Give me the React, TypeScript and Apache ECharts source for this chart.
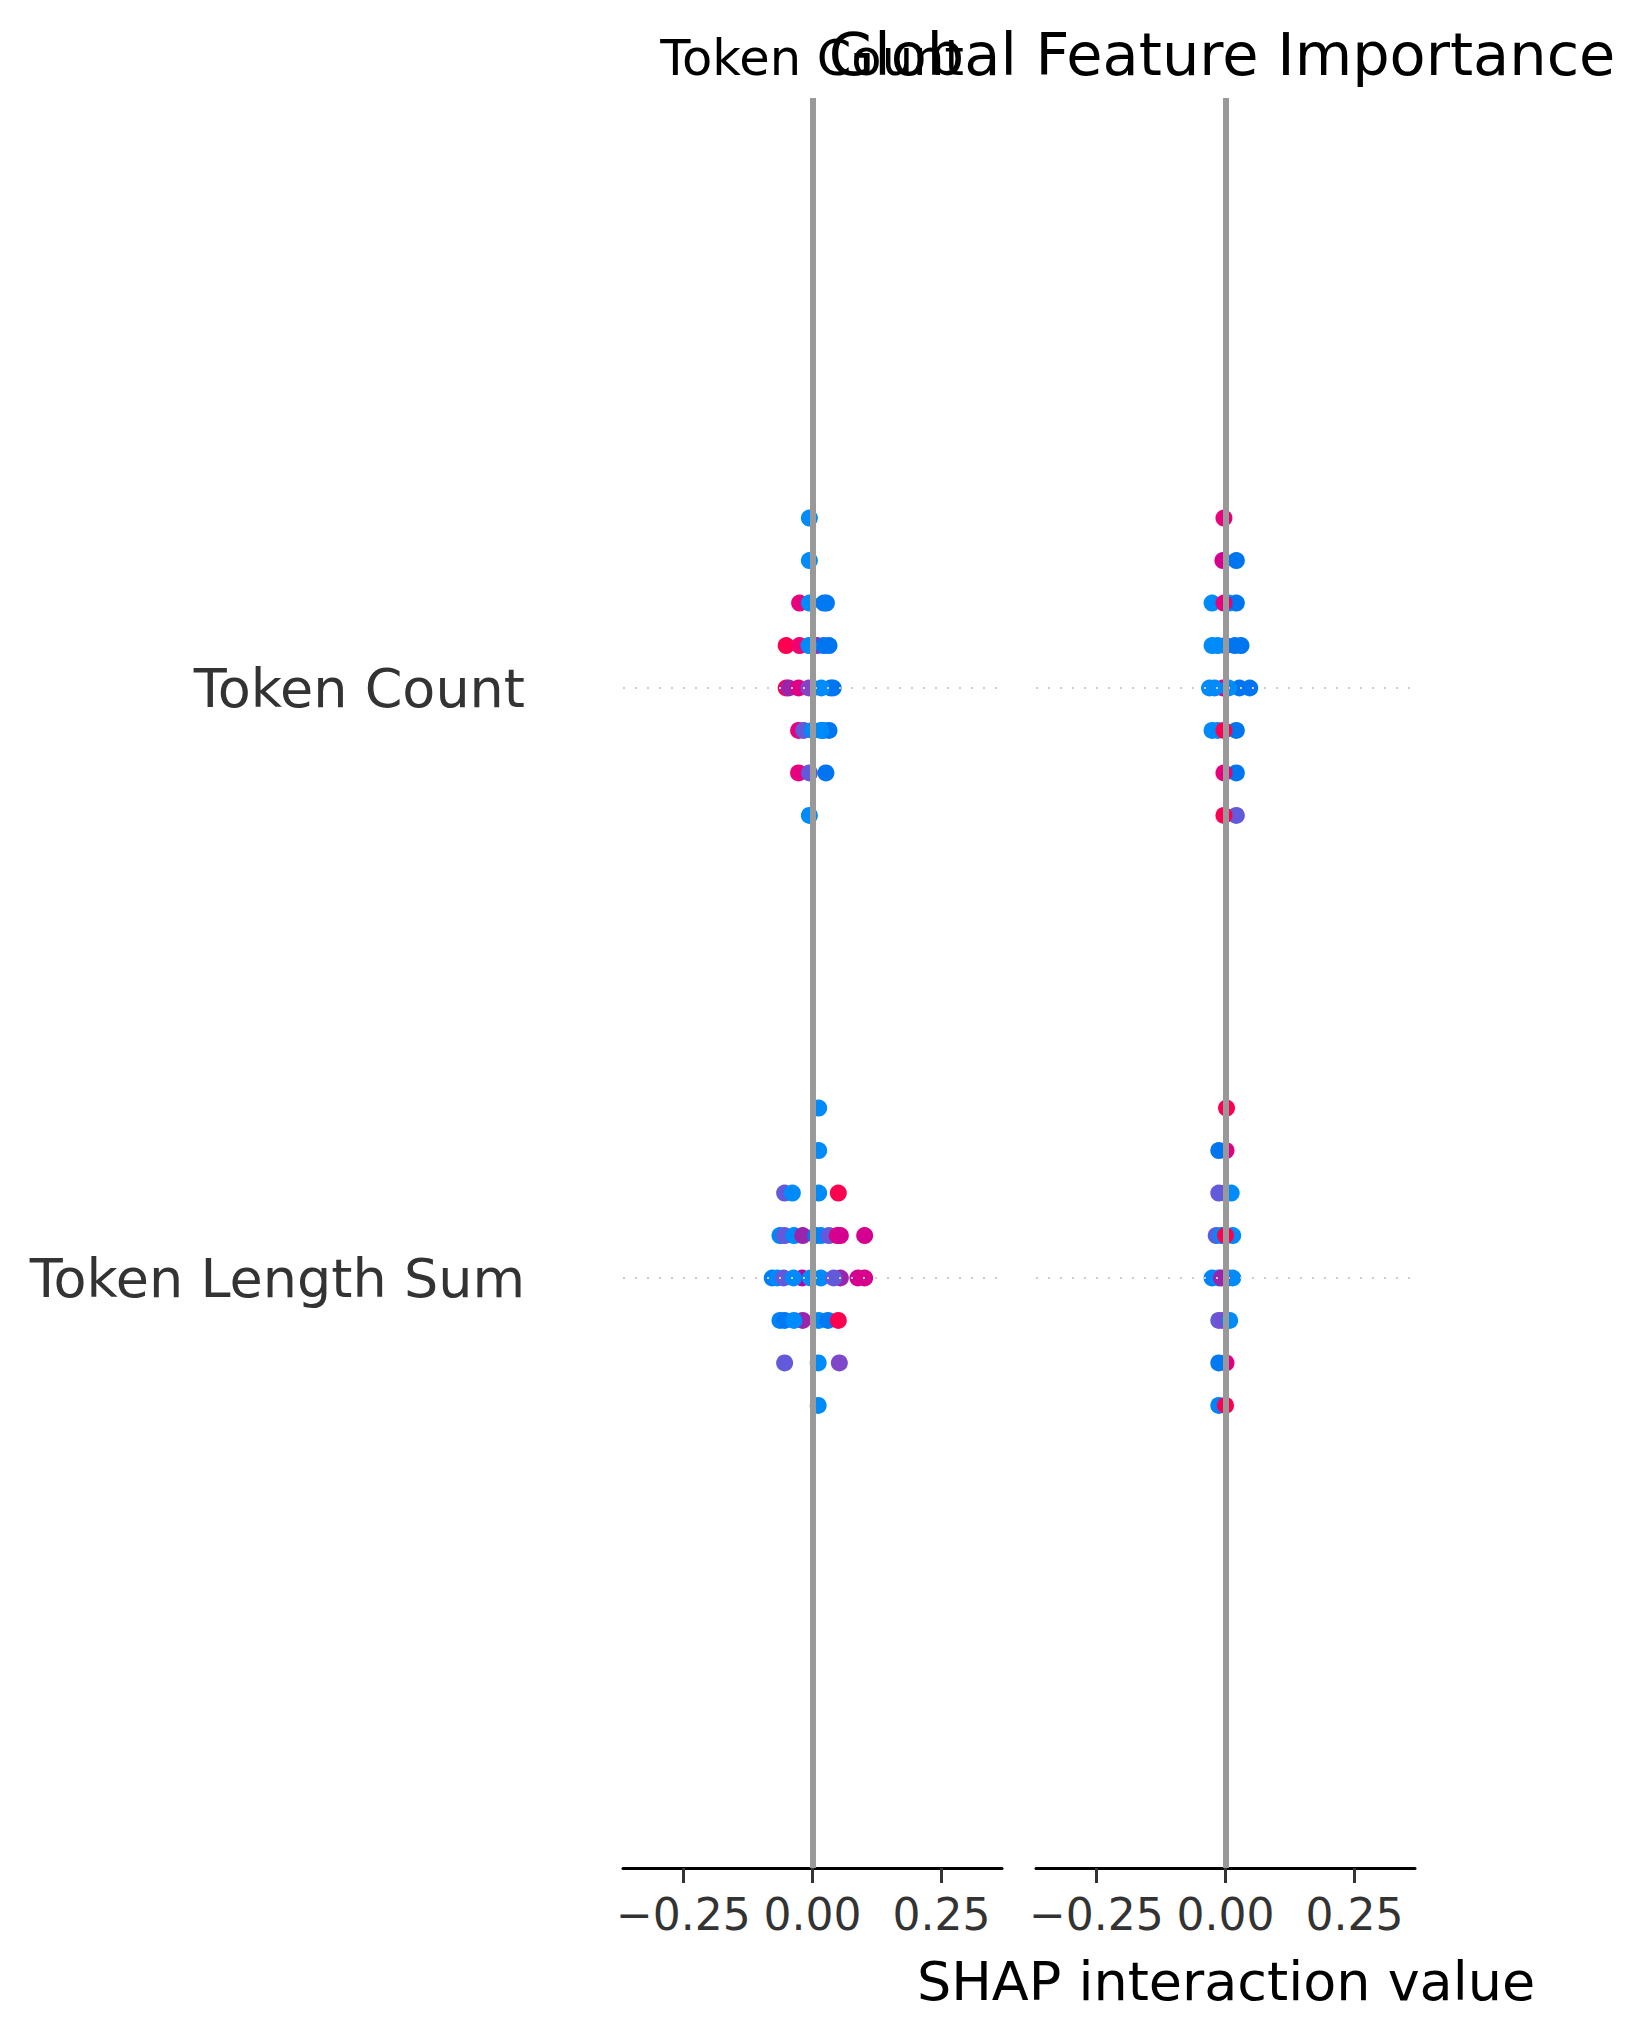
import React, { useEffect, useRef } from "react";
import * as echarts from "echarts";

// ---------- data ----------
const FEATURES = ["Token Length Sum", "Token Count"]; // y = 0, y = 1
const PANEL_TITLE = "Token Count";
const MAIN_TITLE = "Global Feature Importance";
const X_LABEL = "SHAP interaction value";
const X_TICKS = [-0.25, 0, 0.25];
const X_LIMIT = 0.367;
const ROW_STEP = 0.072; // vertical offset of one beeswarm layer (data units)

// points: [shap interaction value, beeswarm layer (neg = above), feature value 0..1]
const P1_TOKEN_COUNT: [number, number, number][] = [
  [-0.006, -4, 0],
  [-0.006, -3, 0],
  [-0.025, -2, 0.8], [-0.006, -2, 0], [0.022, -2, 0.12], [0.027, -2, 0.12],
  [-0.051, -1, 1], [-0.025, -1, 0.85], [0.009, -1, 0.45], [0.022, -1, 0.15], [0.032, -1, 0.15], [-0.007, -1, 0],
  [-0.051, 0, 1], [-0.046, 0, 0.5], [-0.027, 0, 0.75], [-0.007, 0, 0.4], [0.0, 0, 0.4], [0.035, 0, 0.15], [0.04, 0, 0.15], [0.017, 0, 0],
  [-0.027, 1, 0.8], [-0.017, 1, 0.3], [0.0, 1, 0], [0.021, 1, 0.1], [0.032, 1, 0.15], [0.016, 1, 0],
  [-0.027, 2, 0.8], [-0.006, 2, 0.3], [0.026, 2, 0.15],
  [-0.006, 3, 0],
];

const P1_TOKEN_LENGTH_SUM: [number, number, number][] = [
  [0.012, -4, 0],
  [0.012, -3, 0],
  [-0.054, -2, 0.3], [-0.039, -2, 0], [0.012, -2, 0], [0.05, -2, 1],
  [-0.063, -1, 0.05], [-0.054, -1, 0.3], [-0.036, -1, 0], [-0.019, -1, 0.5], [0.006, -1, 0.15], [0.016, -1, 0.05], [0.032, -1, 0.3], [0.048, -1, 0.75], [0.054, -1, 0.7], [0.101, -1, 0.7],
  [-0.078, 0, 0.08], [-0.068, 0, 0], [-0.056, 0, 0.3], [-0.02, 0, 0.6], [-0.037, 0, 0], [-0.004, 0, 0], [0.016, 0, 0], [0.054, 0, 0.5], [0.041, 0, 0.3], [0.088, 0, 0.7], [0.101, 0, 0.72],
  [-0.063, 1, 0.05], [-0.054, 1, 0.12], [-0.019, 1, 0.5], [-0.036, 1, 0], [0.012, 1, 0], [0.03, 1, 0.12], [0.05, 1, 1],
  [-0.054, 2, 0.3], [0.011, 2, 0], [0.052, 2, 0.38],
  [0.011, 3, 0],
];

const P2_TOKEN_COUNT: [number, number, number][] = [
  [-0.003, -4, 0.8],
  [-0.005, -3, 0.7], [0.021, -3, 0.15],
  [-0.026, -2, 0], [0.006, -2, 0], [0.021, -2, 0.15], [-0.003, -2, 0.8],
  [0.0, -1, 0.5], [0.018, -1, 0.15], [0.03, -1, 0.15], [-0.026, -1, 0], [-0.015, -1, 0],
  [-0.005, 0, 0.8], [-0.031, 0, 0], [-0.021, 0, 0], [0.027, 0, 0.15], [0.047, 0, 0.15], [0.006, 0, 0],
  [-0.026, 1, 0], [-0.015, 1, 0], [0.021, 1, 0.15], [-0.003, 1, 1],
  [0.021, 2, 0.15], [-0.003, 2, 0.8],
  [0.021, 3, 0.3], [-0.003, 3, 1],
];

const P2_TOKEN_LENGTH_SUM: [number, number, number][] = [
  [0.002, -4, 1],
  [0.001, -3, 0.75], [-0.013, -3, 0.15],
  [0.0, -2, 1], [0.011, -2, 0], [-0.013, -2, 0.3],
  [-0.018, -1, 0.28], [-0.008, -1, 0], [0.014, -1, 0], [0.0, -1, 1],
  [-0.026, 0, 0.05], [-0.013, 0, 0], [0.005, 0, 1], [0.014, 0, 0], [-0.008, 0, 0.5],
  [-0.013, 1, 0.3], [-0.005, 1, 0.35], [0.008, 1, 0],
  [0.001, 2, 0.75], [-0.013, 2, 0.12],
  [-0.013, 3, 0.05], [0.0, 3, 1],
];

// ---------- SHAP red_blue colormap (LCH interpolation, lightness dips to 40 mid-way) ----------
function redBlue(t: number): string {
  const L = t < 0.5 ? 54 + (40 - 54) * (t / 0.5) : 40 + (54 - 40) * ((t - 0.5) / 0.5);
  const C = 70 * (1 - t) + 90 * t;
  const H = 4.6588 * (1 - t) + (0.35470565 + 2 * Math.PI) * t;
  const a = C * Math.cos(H);
  const b = C * Math.sin(H);
  const fy = (L + 16) / 116;
  const fx = fy + a / 500;
  const fz = fy - b / 200;
  const finv = (v: number) => (v > 6 / 29 ? v * v * v : 3 * (6 / 29) * (6 / 29) * (v - 4 / 29));
  const X = 0.95047 * finv(fx);
  const Y = 1.0 * finv(fy);
  const Z = 1.08883 * finv(fz);
  const lin = [
    3.2406 * X - 1.5372 * Y - 0.4986 * Z,
    -0.9689 * X + 1.8758 * Y + 0.0415 * Z,
    0.0557 * X - 0.204 * Y + 1.057 * Z,
  ];
  const g = lin.map((v) => {
    const s = v <= 0.0031308 ? 12.92 * v : 1.055 * Math.pow(v, 1 / 2.4) - 0.055;
    return Math.round(Math.min(1, Math.max(0, s)) * 255);
  });
  return `rgb(${g[0]},${g[1]},${g[2]})`;
}

const FONT = "DejaVu Sans";

function fmtTick(v: number): string {
  const s = Math.abs(v).toFixed(2);
  return v < -1e-9 ? "\u2212" + s : s;
}

export default function App() {
  const ref = useRef<HTMLDivElement>(null);

  useEffect(() => {
    document.body.style.margin = "0";
    if (!ref.current) return;
    const chart = echarts.init(ref.current, undefined, { renderer: "svg" });

    const GRID_TOP = 98;
    const GRID_H = 1770;
    const GRID_W = 379;
    const lefts = [623, 1036];

    const toPoints = (pts: [number, number, number][], base: number) =>
      pts.map(([x, k, c]) => ({
        value: [x, base - k * ROW_STEP],
        itemStyle: { color: redBlue(c) },
      }));

    const panels = [
      [P1_TOKEN_COUNT, P1_TOKEN_LENGTH_SUM],
      [P2_TOKEN_COUNT, P2_TOKEN_LENGTH_SUM],
    ];

    const series: any[] = [];
    panels.forEach((p, i) => {
      series.push({
        type: "scatter",
        xAxisIndex: i,
        yAxisIndex: i,
        z: 1,
        silent: true,
        symbolSize: 0,
        data: [[0, -1]],
        markLine: {
          silent: true,
          symbol: ["none", "none"],
          label: { show: false },
          animation: false,
          data: [
            { yAxis: 0, lineStyle: { color: "#cccccc", width: 2, type: [2, 10] } },
            { yAxis: 1, lineStyle: { color: "#cccccc", width: 2, type: [2, 10] } },
            { xAxis: 0, lineStyle: { color: "#999999", width: 6, type: "solid" } },
          ],
        },
      });
      series.push({
        type: "scatter",
        xAxisIndex: i,
        yAxisIndex: i,
        z: 3,
        symbolSize: 17,
        itemStyle: { opacity: 1 },
        data: [...toPoints(p[0], 1), ...toPoints(p[1], 0)],
      });
    });

    chart.setOption({
      animation: false,
      backgroundColor: "#ffffff",
      grid: lefts.map((l) => ({ left: l, top: GRID_TOP, width: GRID_W, height: GRID_H })),
      xAxis: lefts.map((_, i) => ({
        type: "value",
        gridIndex: i,
        min: -X_LIMIT,
        max: X_LIMIT,
        axisLine: { show: true, onZero: false, lineStyle: { color: "#000000", width: 3 } },
        axisTick: { show: true, customValues: X_TICKS, length: 15, lineStyle: { color: "#333333", width: 3 } },
        axisLabel: {
          customValues: X_TICKS,
          formatter: (v: number) => fmtTick(v),
          fontSize: 44,
          fontFamily: FONT,
          color: "#333333",
          margin: 24,
        },
        splitLine: { show: false },
      })),
      yAxis: lefts.map((_, i) => ({
        type: "value",
        gridIndex: i,
        min: -1,
        max: 2,
        axisLine: { show: false },
        axisTick: { show: false },
        splitLine: { show: false },
        axisLabel: {
          show: i === 0,
          customValues: [0, 1],
          formatter: (v: number) => FEATURES[Math.round(v)] ?? "",
          fontSize: 54,
          fontFamily: FONT,
          color: "#333333",
          margin: 98,
          padding: [8, 0, 0, 0],
        },
      })),
      graphic: [
        {
          type: "text",
          x: 812,
          y: 58,
          style: { text: PANEL_TITLE, fontSize: 49.5, fontFamily: FONT, fill: "#000000", align: "center", verticalAlign: "middle" },
        },
        {
          type: "text",
          x: 1222,
          y: 54,
          style: { text: MAIN_TITLE, fontSize: 59, fontFamily: FONT, fill: "#000000", align: "center", verticalAlign: "middle" },
        },
        {
          type: "text",
          x: 1226,
          y: 1981,
          style: { text: X_LABEL, fontSize: 54, fontFamily: FONT, fill: "#000000", align: "center", verticalAlign: "middle" },
        },
      ],
      series,
    });

    return () => chart.dispose();
  }, []);

  return <div ref={ref} style={{ width: 1644, height: 2041 }} />;
}
